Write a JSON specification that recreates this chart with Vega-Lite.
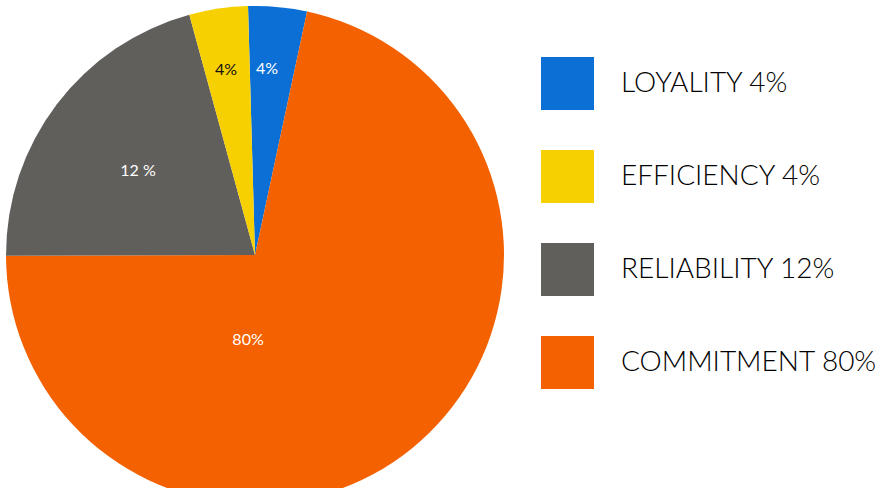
{
  "$schema": "https://vega.github.io/schema/vega-lite/v6.json",
  "width": 510,
  "height": 510,
  "padding": 0,
  "background": "white",
  "config": {"view": {"stroke": null}},
  "data": {
    "values": [
      {"slice": "LOYALITY", "legend": "LOYALITY 4%", "share": 3.8, "ord": 1, "label": "4%", "angle": 3.7, "r": 186},
      {"slice": "COMMITMENT", "legend": "COMMITMENT 80%", "share": 71.6, "ord": 2, "label": "80%", "angle": 184.7, "r": 85},
      {"slice": "RELIABILITY", "legend": "RELIABILITY 12%", "share": 20.8, "ord": 3, "label": "12 %", "angle": 305.7, "r": 144},
      {"slice": "EFFICIENCY", "legend": "EFFICIENCY 4%", "share": 3.8, "ord": 4, "label": "4%", "angle": 351.1, "r": 187}
    ]
  },
  "layer": [
    {
      "mark": {"type": "arc", "outerRadius": 249},
      "encoding": {
        "theta": {"field": "share", "type": "quantitative", "stack": true, "scale": {"range": [-0.028, 6.255]}},
        "order": {"field": "ord", "type": "quantitative"},
        "color": {
          "field": "legend",
          "type": "nominal",
          "scale": {
            "domain": ["LOYALITY 4%", "EFFICIENCY 4%", "RELIABILITY 12%", "COMMITMENT 80%"],
            "range": ["#0b6fd5", "#f6d000", "#605f5c", "#f36100"]
          },
          "legend": {
            "title": null,
            "orient": "none",
            "legendX": 541,
            "legendY": 57,
            "symbolType": "square",
            "symbolSize": 2809,
            "symbolStrokeWidth": 0,
            "symbolOpacity": 1,
            "labelFont": "Lato",
            "labelFontWeight": 300,
            "labelFontSize": 28,
            "labelColor": "black",
            "labelLimit": 0,
            "labelOffset": 27,
            "rowPadding": 40
          }
        }
      }
    },
    {
      "mark": {"type": "text", "font": "Lato", "fontSize": 16, "align": "center", "baseline": "middle"},
      "encoding": {
        "theta": {"field": "angle", "type": "quantitative", "stack": null, "scale": {"domain": [0, 360], "range": [0, 6.2832]}},
        "radius": {"field": "r", "type": "quantitative", "scale": {"type": "linear", "domain": [0, 250], "range": [0, 250], "zero": true}},
        "text": {"field": "label"},
        "color": {"condition": {"test": "datum.slice === 'EFFICIENCY'", "value": "#111111"}, "value": "white"}
      }
    }
  ],
  "resolve": {"scale": {"theta": "independent"}}
}
